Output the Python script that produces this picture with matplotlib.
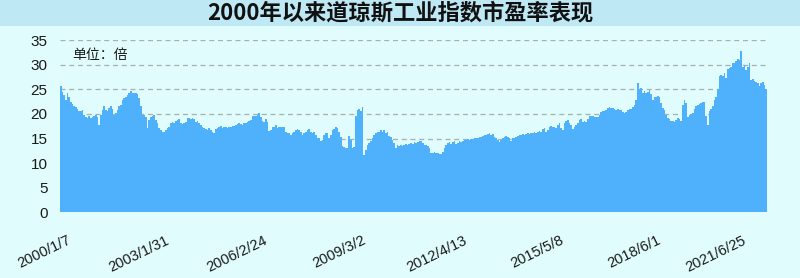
import matplotlib
matplotlib.use("Agg")
import matplotlib.pyplot as plt
from matplotlib.patches import Rectangle

# ---------------------------------------------------
# ข้อมูล: P/E ของดัชนี Dow Jones (อ่านค่าจากภาพ ~ทุก 2.7 สัปดาห์)
# ---------------------------------------------------
pe_2000_2003 = [25.6, 24.5, 23.9, 22.8, 24.3, 23.5, 22.5, 22.0, 21.6, 21.4, 21.0, 20.5, 20.5, 20.8,
                19.8, 19.3, 19.1, 19.5, 19.1, 19.3, 19.6, 19.8, 19.3, 17.8, 19.8, 20.8, 21.5, 20.8,
                20.5, 21.1, 21.5, 21.0, 19.8, 20.1, 20.8, 21.5, 21.8, 22.8, 23.2, 23.5, 23.9, 24.2,
                24.7, 24.2, 24.3, 24.2, 24.1, 23.2, 21.5, 19.8, 19.8, 19.3, 17.1, 18.8, 19.3, 19.6,
                19.8, 18.8, 18.1, 17.1, 16.7, 16.4, 16.4, 16.7, 17.1, 17.4]
pe_2003_2006 = [18.2, 18.4, 18.2, 18.6, 18.8, 18.9, 18.1, 18.0, 18.2, 18.4, 19.1, 19.1, 19.0, 19.1,
                18.9, 18.4, 18.6, 18.2, 17.8, 17.4, 17.1, 16.9, 16.7, 17.1, 16.7, 16.4, 16.1, 16.9,
                17.1, 17.3, 17.6, 17.1, 17.4, 17.4, 17.1, 17.3, 17.3, 17.6, 17.6, 17.8, 18.0, 18.1,
                18.0, 17.8, 18.1, 18.2, 18.4, 18.6, 18.8, 19.6, 19.6, 19.6, 19.8, 20.1, 19.3, 18.6,
                18.4, 18.9, 18.4, 16.6, 16.7, 17.3, 17.4, 17.8]
pe_2006_2009 = [17.1, 17.3, 17.4, 17.3, 17.3, 16.4, 16.2, 16.1, 15.7, 16.1, 16.4, 16.7, 16.9, 16.7,
                16.4, 15.7, 16.1, 16.4, 16.7, 16.9, 16.4, 16.2, 16.4, 15.7, 15.2, 15.1, 14.4, 14.7,
                15.7, 16.1, 16.1, 15.1, 15.7, 16.7, 16.9, 17.3, 17.1, 16.4, 15.4, 13.5, 13.2, 13.0,
                13.0, 15.5, 14.7, 13.0, 13.2, 19.6, 20.8, 21.0, 20.5, 21.4, 11.7, 12.7, 13.7, 14.0,
                14.4, 15.1, 15.7, 16.2, 16.4, 16.4, 16.7, 16.4]
pe_2009_2012 = [16.7, 16.1, 16.4, 15.5, 15.4, 14.7, 14.0, 13.0, 13.7, 13.4, 13.7, 13.5, 13.7, 13.9,
                13.7, 13.9, 14.0, 13.9, 14.2, 14.0, 14.2, 14.4, 14.4, 14.0, 13.7, 13.7, 13.4, 13.0,
                12.1, 12.1, 12.3, 12.0, 12.1, 11.9, 11.9, 12.3, 13.0, 13.7, 14.0, 14.2, 13.9, 14.2,
                14.4, 13.9, 14.0, 14.4, 14.2, 14.4, 14.6, 14.6, 14.8, 14.7, 14.8, 14.8, 15.1, 15.2,
                15.2, 15.4, 15.4, 15.5, 15.7, 15.7, 15.9, 16.1]
pe_2012_2015 = [15.7, 15.9, 15.4, 15.1, 14.7, 14.2, 14.7, 15.1, 15.4, 15.5, 15.4, 15.2, 14.4, 15.1,
                15.2, 15.4, 15.5, 15.7, 15.7, 15.9, 15.7, 15.9, 16.1, 15.9, 16.2, 16.1, 16.4, 16.2,
                16.4, 16.6, 16.4, 16.9, 17.1, 16.4, 16.7, 17.4, 17.6, 17.4, 17.3, 17.1, 17.8, 18.1,
                17.1, 16.7, 18.1, 18.6, 18.8, 18.2, 17.8, 16.9, 17.4, 17.8, 18.2, 18.8, 18.9, 18.4,
                18.6, 18.4, 18.9, 19.5, 19.6, 19.5, 19.3, 19.3]
pe_2015_2019 = [19.3, 19.8, 20.3, 20.5, 20.5, 20.8, 21.1, 21.4, 21.1, 21.1, 21.0, 20.8, 21.0, 20.8,
                20.8, 20.3, 20.1, 20.3, 20.7, 21.0, 21.0, 21.4, 21.8, 22.8, 26.2, 25.0, 25.2, 24.2,
                24.7, 24.3, 24.5, 24.9, 24.1, 22.8, 23.5, 23.4, 23.7, 23.5, 22.3, 21.1, 20.8, 19.8,
                19.1, 18.9, 18.6, 18.6, 18.4, 18.8, 19.1, 18.9, 18.6, 21.8, 22.8, 22.3, 19.3, 19.8,
                20.0, 20.1, 21.0, 21.5, 21.8, 22.0, 22.3, 22.5]
pe_2019_2022 = [22.5, 19.5, 17.8, 20.5, 21.0, 21.5, 22.8, 23.5, 25.0, 27.6, 27.9, 27.6, 28.3, 27.3,
                29.1, 29.3, 29.6, 30.3, 30.4, 30.8, 31.1, 31.0, 32.7, 29.6, 30.0, 29.0, 29.5, 30.3,
                26.9, 27.0, 26.6, 26.4, 26.2, 25.6, 26.2, 26.4, 25.9, 25.0]

pe_ratio = (pe_2000_2003 + pe_2003_2006 + pe_2006_2009 + pe_2009_2012
            + pe_2012_2015 + pe_2015_2019 + pe_2019_2022)

# ป้ายแกน X และลำดับจุดข้อมูลที่ป้ายนั้นชี้
tick_labels = ["2000/1/7", "2003/1/31", "2006/2/24", "2009/3/2",
               "2012/4/13", "2015/5/8", "2018/6/1", "2021/6/25"]
tick_index = [3.7, 62.5, 121.3, 180.7, 241.3, 299.5, 357.6, 408.7]

y_ticks = [0, 5, 10, 15, 20, 25, 30, 35]

title = "2000年以来道琼斯工业指数市盈率表现"
unit_text = "单位：倍"

# ---------------------------------------------------
# สีและฟอนต์
# ---------------------------------------------------
BG = "#e0fcfc"
BAND = "#bee8f4"
BAR = "#4fb1fb"
GRID = "#a6b0b0"
CJK = ["Noto Sans CJK SC", "DejaVu Sans"]
LATIN = ["Liberation Sans", "DejaVu Sans"]

fig = plt.figure(figsize=(8.0, 2.78), dpi=100)
fig.patch.set_facecolor(BG)

# แถบหัวเรื่องด้านบน
fig.patches.append(Rectangle((0, 1 - 26 / 278), 1, 26 / 278, transform=fig.transFigure,
                             facecolor=BAND, edgecolor="none", zorder=0))
fig.text(0.5, 1 - 13.5 / 278, title, ha="center", va="center",
         fontsize=16, fontweight="bold", family=CJK, color="#111111")

ax = fig.add_axes([60 / 800, 1 - 212.4 / 278, 707 / 800, 172.4 / 278])
ax.set_facecolor(BG)

x = list(range(len(pe_ratio)))
ax.bar(x, pe_ratio, width=1.0, color=BAR, edgecolor="none", linewidth=0, zorder=2)

ax.set_xlim(-0.5, len(pe_ratio) - 0.5)
ax.set_ylim(0, 35)

# เส้น grid แนวนอนแบบประ อยู่หลังแท่ง
ax.set_yticks(y_ticks)
ax.yaxis.grid(True, color=GRID, linestyle=(0, (4, 3)), linewidth=0.9, zorder=0)
ax.set_axisbelow(True)

ax.set_xticks(tick_index)
ax.set_xticklabels(tick_labels, rotation=26, ha="right", rotation_mode="anchor",
                   family=LATIN, fontsize=10.5, color="#1a1a1a")
ax.tick_params(axis="x", length=0, pad=15)
ax.tick_params(axis="y", length=0, pad=9, labelsize=11, labelcolor="#1a1a1a")
for lab in ax.get_yticklabels():
    lab.set_family(LATIN)

for spine in ax.spines.values():
    spine.set_visible(False)

fig.text(72 / 800, 1 - 55 / 278, unit_text, ha="left", va="center",
         fontsize=10, family=CJK, color="#1a1a1a")

fig.savefig("out.png", dpi=100, facecolor=BG)
